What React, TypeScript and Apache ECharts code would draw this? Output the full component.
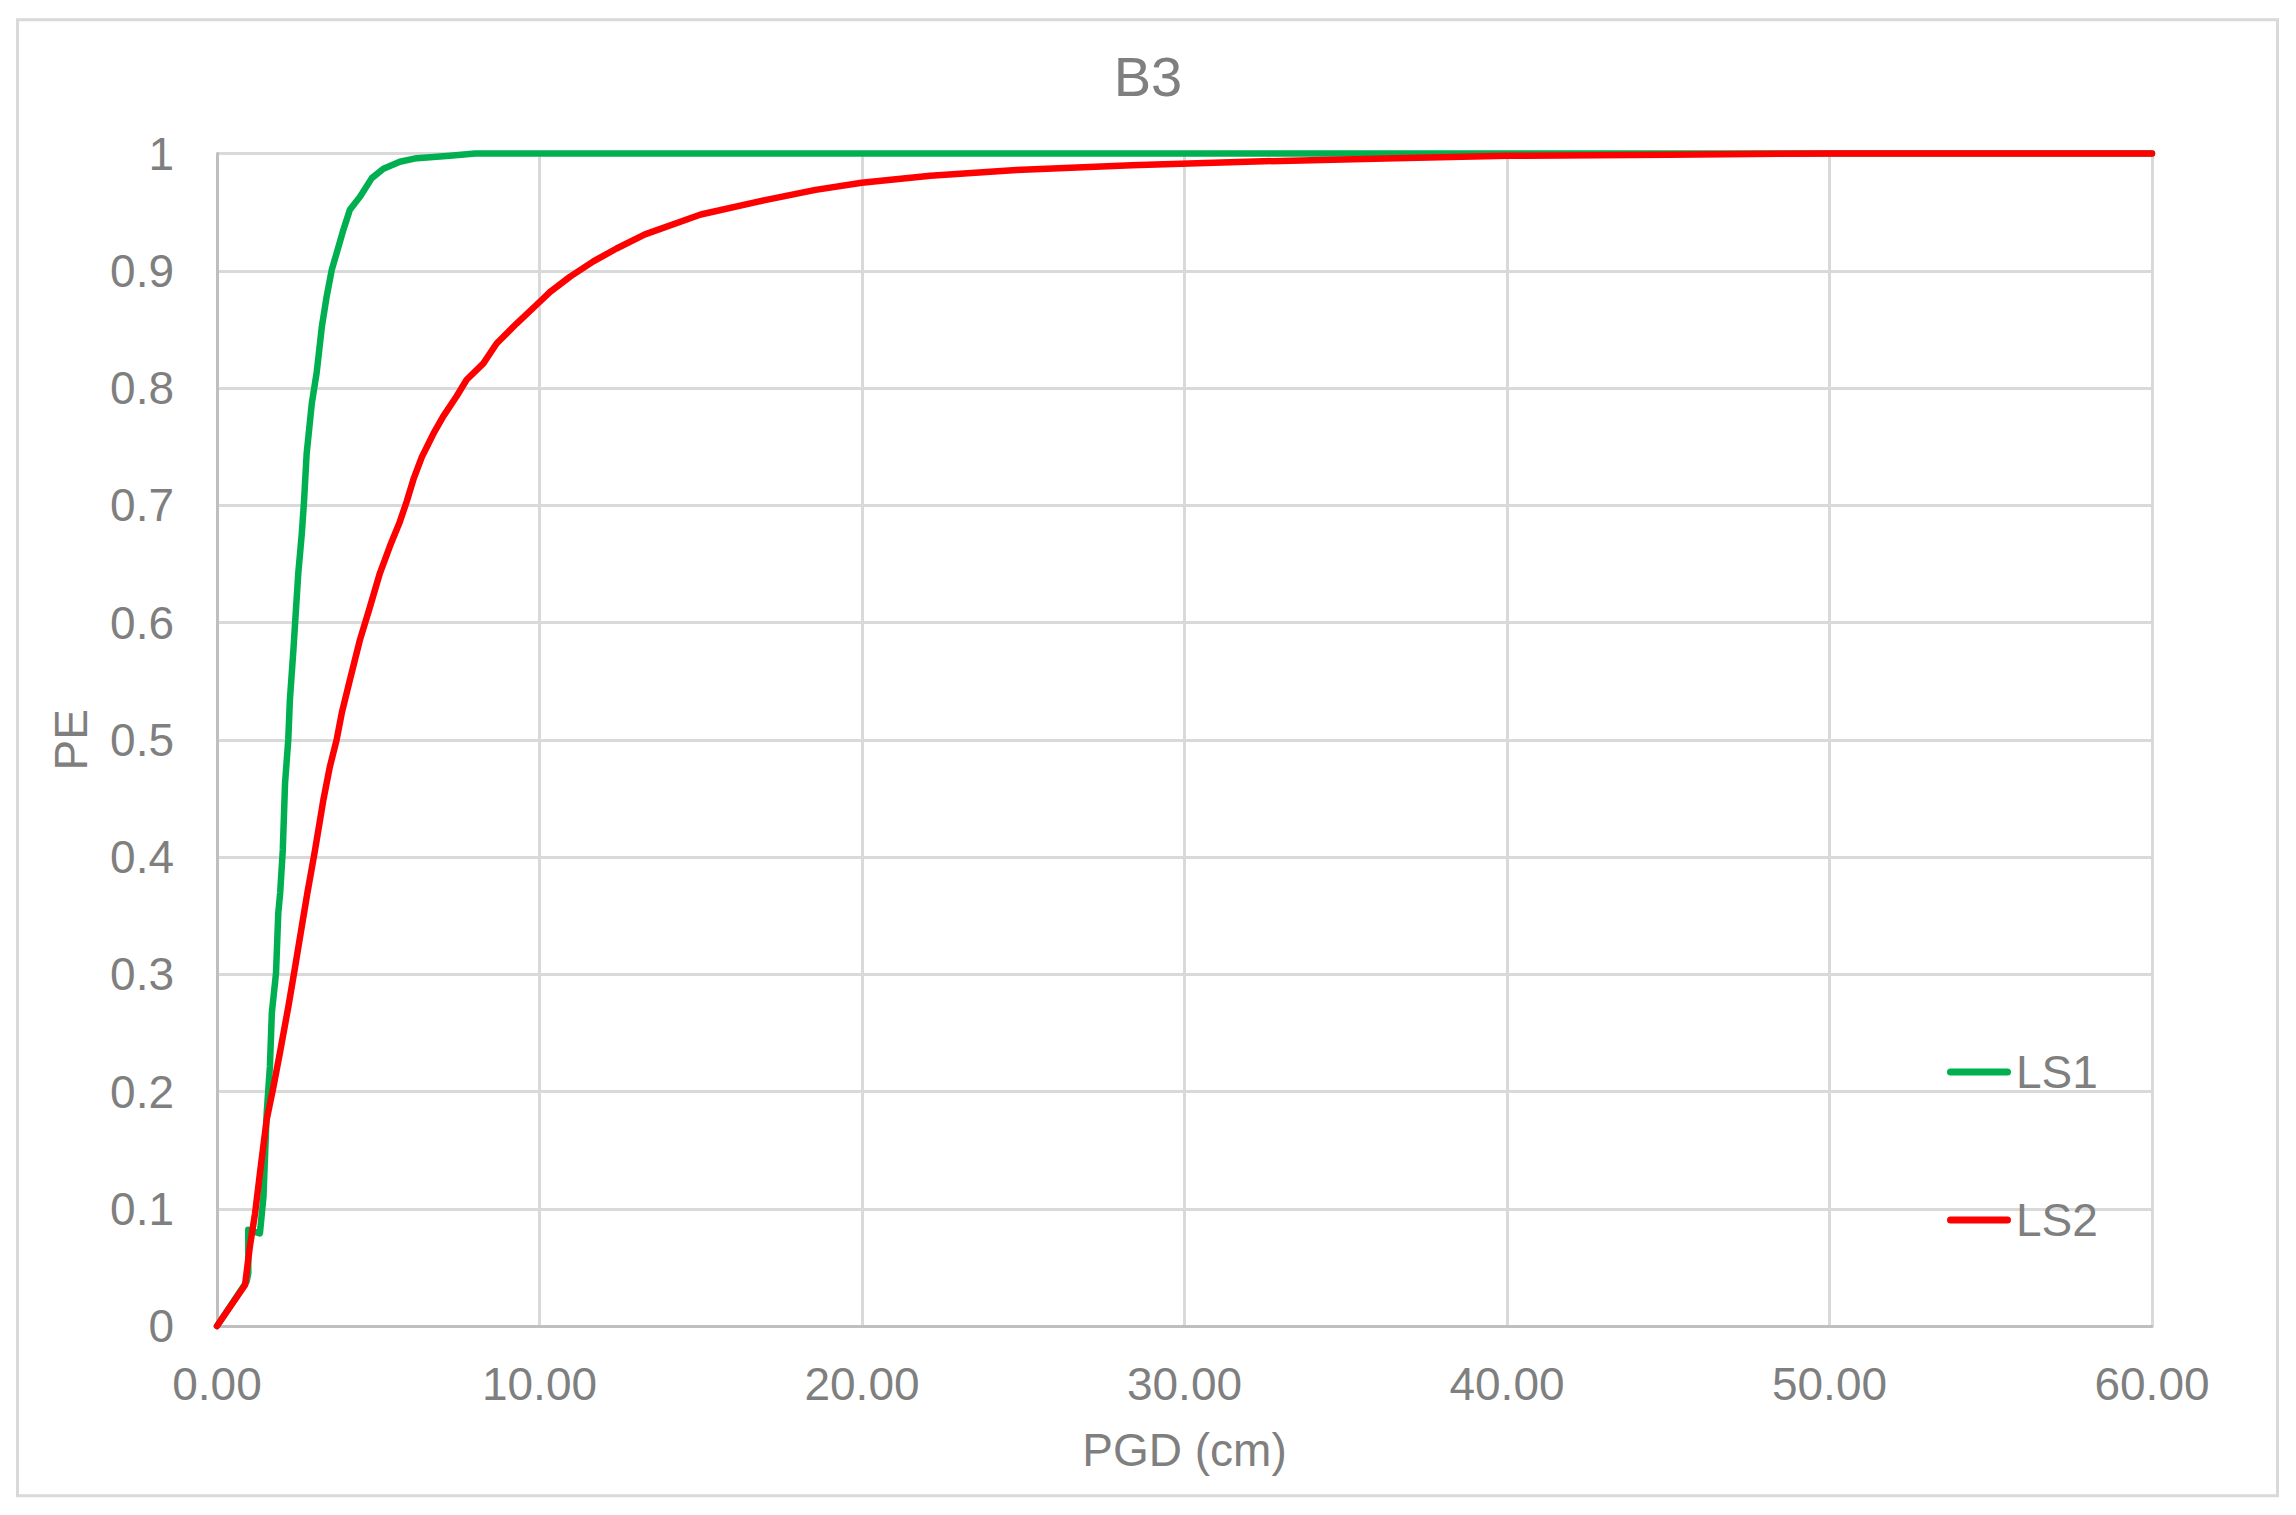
import React, { useEffect, useRef } from "react";
import * as echarts from "echarts";

// LS1 (green) cumulative curve: PGD (cm) and PE
const ls1X = [0, 0.92, 0.97, 0.97, 1.33, 1.44, 1.54, 1.64, 1.70, 1.83, 1.90, 1.96, 2.04, 2.11, 2.21, 2.26, 2.37, 2.52, 2.63, 2.70, 2.78, 2.94, 3.09, 3.25, 3.40, 3.56, 3.71, 3.92, 4.12, 4.43, 4.80, 5.16, 5.67, 6.19, 6.71, 7.22, 8.0, 20, 40, 60];
const ls1Y = [0, 0.038, 0.045, 0.082, 0.079, 0.110, 0.181, 0.221, 0.267, 0.301, 0.352, 0.370, 0.406, 0.463, 0.500, 0.534, 0.577, 0.642, 0.676, 0.704, 0.744, 0.787, 0.813, 0.852, 0.878, 0.901, 0.915, 0.935, 0.952, 0.963, 0.979, 0.987, 0.993, 0.996, 0.997, 0.998, 1, 1, 1, 1];

// LS2 (red) cumulative curve
const ls2X = [0, 0.87, 1.02, 1.18, 1.33, 1.54, 1.75, 1.95, 2.21, 2.42, 2.63, 2.80, 3.04, 3.30, 3.50, 3.71, 3.87, 4.12, 4.43, 4.74, 5.05, 5.36, 5.67, 5.88, 6.09, 6.35, 6.71, 7.02, 7.43, 7.74, 8.26, 8.67, 9.29, 9.91, 10.33, 10.95, 11.67, 12.39, 13.27, 15.0, 16.78, 18.56, 19.99, 22.12, 24.79, 28.36, 31.92, 36.54, 40, 45, 50, 60];
const ls2Y = [0, 0.035, 0.068, 0.096, 0.130, 0.176, 0.204, 0.233, 0.272, 0.306, 0.341, 0.369, 0.406, 0.449, 0.477, 0.500, 0.523, 0.551, 0.585, 0.613, 0.642, 0.665, 0.686, 0.703, 0.722, 0.741, 0.761, 0.776, 0.793, 0.807, 0.821, 0.838, 0.855, 0.871, 0.882, 0.895, 0.908, 0.919, 0.931, 0.948, 0.959, 0.969, 0.975, 0.981, 0.986, 0.990, 0.993, 0.996, 0.998, 0.999, 1, 1];

const seriesNames = ["LS1", "LS2"];
const seriesColors = ["#00b050", "#ff0000"];
const chartTitle = "B3";
const xAxisName = "PGD (cm)";
const yAxisName = "PE";

const FONT = "'Liberation Sans', Arial, sans-serif";
const GRAY = "#7f7f7f";
const LEGEND_ICON = "path://M3.5,0 H60.5 A3.5,3.5 0 0 1 60.5,7 H3.5 A3.5,3.5 0 0 1 3.5,0 Z";

function pairs(xs: number[], ys: number[]) {
  return xs.map((x, i) => [x, ys[i]]);
}

export default function App() {
  const ref = useRef<HTMLDivElement>(null);
  useEffect(() => {
    document.body.style.margin = "0";
    if (!ref.current) return;
    const chart = echarts.init(ref.current, null, { renderer: "svg" });
    const textBase = { color: GRAY, fontFamily: FONT, fontSize: 46, fontWeight: "normal" as const };
    chart.setOption({
      animation: false,
      backgroundColor: "#ffffff",
      title: {
        text: chartTitle,
        left: "center",
        top: 48,
        padding: 0,
        textStyle: { ...textBase, fontSize: 56 },
      },
      graphic: [
        {
          type: "rect",
          shape: { x: 17.5, y: 19.8, width: 2260, height: 1476 },
          style: { fill: "none", stroke: "#d9d9d9", lineWidth: 3 },
          silent: true,
          z: -1,
        },
      ],
      legend: {
        data: seriesNames.map((n, i) => ({ name: n, icon: LEGEND_ICON, itemStyle: { color: seriesColors[i] } })),
        orient: "vertical",
        left: 1947,
        top: 1049,
        padding: 0,
        itemGap: 102,
        itemWidth: 64,
        itemHeight: 7,
        textStyle: { ...textBase },
      },
      grid: {
        left: 217,
        right: 144,
        top: 153.5,
        bottom: 189,
        containLabel: false,
        outerBoundsMode: "none",
      },
      xAxis: {
        type: "value",
        min: 0,
        max: 60,
        interval: 10,
        name: xAxisName,
        nameLocation: "middle",
        nameGap: 101,
        nameTextStyle: { ...textBase },
        axisLine: { show: true, lineStyle: { color: "#bfbfbf", width: 3 } },
        axisTick: { show: false },
        splitLine: { show: true, lineStyle: { color: "#d9d9d9", width: 3 } },
        axisLabel: {
          ...textBase,
          margin: 35,
          formatter: (v: number) => v.toFixed(2),
        },
      },
      yAxis: {
        type: "value",
        min: 0,
        max: 1,
        interval: 0.1,
        name: yAxisName,
        nameLocation: "middle",
        nameGap: 123,
        nameRotate: 90,
        nameTextStyle: { ...textBase },
        axisLine: { show: true, lineStyle: { color: "#bfbfbf", width: 3 } },
        axisTick: { show: false },
        splitLine: { show: true, lineStyle: { color: "#d9d9d9", width: 3 } },
        axisLabel: {
          ...textBase,
          margin: 43,
          formatter: (v: number) => String(Math.round(v * 10) / 10),
        },
      },
      series: [
        {
          name: seriesNames[0],
          type: "line",
          data: pairs(ls1X, ls1Y),
          symbol: "none",
          showSymbol: false,
          clip: false,
          color: seriesColors[0],
          lineStyle: { color: seriesColors[0], width: 6.5, cap: "round", join: "round" },
        },
        {
          name: seriesNames[1],
          type: "line",
          data: pairs(ls2X, ls2Y),
          symbol: "none",
          showSymbol: false,
          clip: false,
          color: seriesColors[1],
          lineStyle: { color: seriesColors[1], width: 6.5, cap: "round", join: "round" },
        },
      ],
    });
    return () => chart.dispose();
  }, []);
  return (
    <div
      ref={ref}
      style={{ position: "absolute", left: 0, top: 0, width: 2296, height: 1515 }}
    />
  );
}
